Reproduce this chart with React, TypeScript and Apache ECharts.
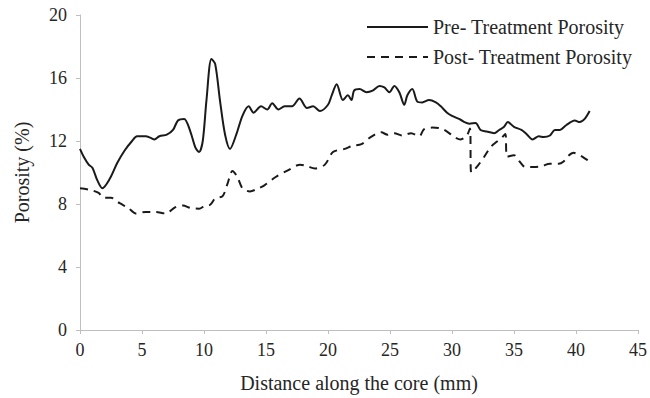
import React, { useEffect, useRef } from "react";
import * as echarts from "echarts";

const preX = [0, 0.3, 0.7, 1.0, 1.4, 1.8, 2.4, 3.0, 3.6, 4.2, 4.6, 5.3, 5.7, 6.0, 6.4, 7.0, 7.5, 7.9, 8.4, 8.9, 9.3, 9.6, 9.9, 10.2, 10.6, 10.9, 11.3, 11.7, 12.1, 12.6, 13.1, 13.6, 14.0, 14.6, 15.1, 15.5, 16.0, 16.5, 17.1, 17.7, 18.3, 18.8, 19.35, 20.0, 20.3, 20.7, 21.2, 21.6, 21.9, 22.1, 22.55, 23.1, 23.6, 24.15, 24.55, 24.95, 25.35, 25.75, 26.15, 26.4, 26.8, 27.2, 27.6, 28.15, 28.7, 29.1, 29.6, 30.0, 30.7, 31.0, 31.4, 31.9, 32.3, 32.8, 33.4, 33.8, 34.2, 34.5, 35.0, 35.6, 36.0, 36.5, 37.0, 37.4, 37.9, 38.3, 38.7, 39.2, 39.9, 40.3, 40.7, 41.1];
const preY = [11.5, 11.0, 10.5, 10.3, 9.5, 9.0, 9.6, 10.6, 11.4, 12.0, 12.3, 12.3, 12.2, 12.1, 12.3, 12.4, 12.7, 13.3, 13.4, 12.6, 11.6, 11.3, 12.0, 14.6, 17.2, 16.9, 14.5, 12.4, 11.5, 12.4, 13.6, 14.2, 13.8, 14.2, 14.0, 14.4, 14.0, 14.2, 14.2, 14.7, 14.1, 14.2, 13.9, 14.3, 14.9, 15.6, 14.6, 14.9, 14.6, 15.2, 15.3, 15.1, 15.2, 15.5, 15.4, 15.1, 15.5, 15.1, 14.3, 14.9, 15.3, 14.5, 14.45, 14.6, 14.45, 14.2, 13.8, 13.6, 13.35, 13.2, 13.1, 13.15, 12.7, 12.6, 12.5, 12.7, 12.9, 13.2, 12.9, 12.7, 12.45, 12.1, 12.3, 12.25, 12.35, 12.7, 12.7, 13.0, 13.3, 13.2, 13.4, 13.9];

const postX = [0, 0.8, 1.5, 1.9, 2.5, 3.2, 3.9, 4.5, 5.3, 6.1, 6.9, 7.7, 8.3, 8.9, 9.6, 10.1, 10.5, 10.9, 11.5, 11.9, 12.3, 12.7, 13.1, 13.7, 14.4, 14.9, 15.75, 16.8, 17.75, 18.3, 18.95, 19.75, 20.4, 21.35, 22.0, 22.7, 23.35, 24.3, 24.8, 25.35, 26.0, 26.7, 27.35, 27.75, 28.4, 29.1, 29.6, 30.2, 30.7, 31.2, 31.45, 31.55, 32.0, 32.6, 33.1, 33.6, 34.0, 34.3, 34.45, 35.0, 35.5, 35.9, 36.6, 37.2, 37.9, 38.6, 39.0, 39.3, 39.8, 40.3, 40.8, 41.1];
const postY = [9.0, 8.9, 8.7, 8.4, 8.4, 8.05, 7.75, 7.4, 7.5, 7.5, 7.4, 7.8, 7.9, 7.75, 7.7, 7.9, 7.95, 8.35, 8.5, 9.3, 10.1, 9.7, 9.0, 8.8, 9.0, 9.2, 9.7, 10.15, 10.5, 10.4, 10.25, 10.5, 11.3, 11.5, 11.7, 11.8, 12.2, 12.55, 12.4, 12.5, 12.35, 12.5, 12.3, 12.75, 12.85, 12.8, 12.6, 12.25, 12.1, 12.35, 12.8, 10.0, 10.35, 11.0, 11.6, 11.95, 12.2, 12.45, 11.0, 11.1, 10.65, 10.35, 10.35, 10.4, 10.55, 10.55, 10.7, 11.0, 11.25, 11.1, 10.85, 10.7];

const seriesNames = ["Pre- Treatment Porosity", "Post- Treatment Porosity"];
const xTitle = "Distance along the core (mm)";
const yTitle = "Porosity (%)";

const FONT = "'Liberation Serif', 'Times New Roman', serif";

export default function App() {
  const ref = useRef<HTMLDivElement>(null);
  useEffect(() => {
    if (!ref.current) return;
    const chart = echarts.init(ref.current, undefined, { renderer: "svg" });
    const pre = preX.map((x, i) => [x, preY[i]]);
    const post = postX.map((x, i) => [x, postY[i]]);
    chart.setOption({
      animation: false,
      backgroundColor: "#ffffff",
      textStyle: { fontFamily: FONT },
      grid: { left: 80, right: 8, top: 15, bottom: 65, containLabel: false },
      legend: {
        orient: "vertical",
        left: 361,
        top: 12,
        itemWidth: 61,
        itemHeight: 14,
        itemGap: 10,
        itemStyle: { opacity: 0 },
        textStyle: { fontFamily: FONT, fontSize: 20, color: "#262626" },
        data: seriesNames,
      },
      xAxis: {
        type: "value",
        min: 0,
        max: 45,
        interval: 5,
        name: xTitle,
        nameLocation: "middle",
        nameGap: 43,
        nameTextStyle: { fontFamily: FONT, fontSize: 20, color: "#262626" },
        axisLine: { show: true, lineStyle: { color: "#bfbfbf", width: 1 } },
        axisTick: { show: true, length: 4, lineStyle: { color: "#bfbfbf" } },
        axisLabel: { fontFamily: FONT, fontSize: 18, color: "#262626", margin: 11 },
        splitLine: { show: false },
      },
      yAxis: {
        type: "value",
        min: 0,
        max: 20,
        interval: 4,
        name: yTitle,
        nameLocation: "middle",
        nameGap: 48,
        nameTextStyle: { fontFamily: FONT, fontSize: 20, color: "#262626" },
        axisLine: { show: true, lineStyle: { color: "#bfbfbf", width: 1 } },
        axisTick: { show: true, length: 4, lineStyle: { color: "#bfbfbf" } },
        axisLabel: { fontFamily: FONT, fontSize: 18, color: "#262626", margin: 13 },
        splitLine: { show: false },
      },
      series: [
        {
          name: seriesNames[0],
          type: "line",
          data: pre,
          smooth: 0.3,
          showSymbol: false,
          symbol: "none",
          lineStyle: { color: "#1a1a1a", width: 2, type: "solid" },
          itemStyle: { color: "#1a1a1a" },
        },
        {
          name: seriesNames[1],
          type: "line",
          data: post,
          smooth: 0.3,
          showSymbol: false,
          symbol: "none",
          lineStyle: { color: "#1a1a1a", width: 2, type: [8, 6] },
          itemStyle: { color: "#1a1a1a" },
        },
      ],
    });
    return () => chart.dispose();
  }, []);
  return <div ref={ref} style={{ width: 650, height: 398, position: "absolute", left: 0, top: 0 }} />;
}
